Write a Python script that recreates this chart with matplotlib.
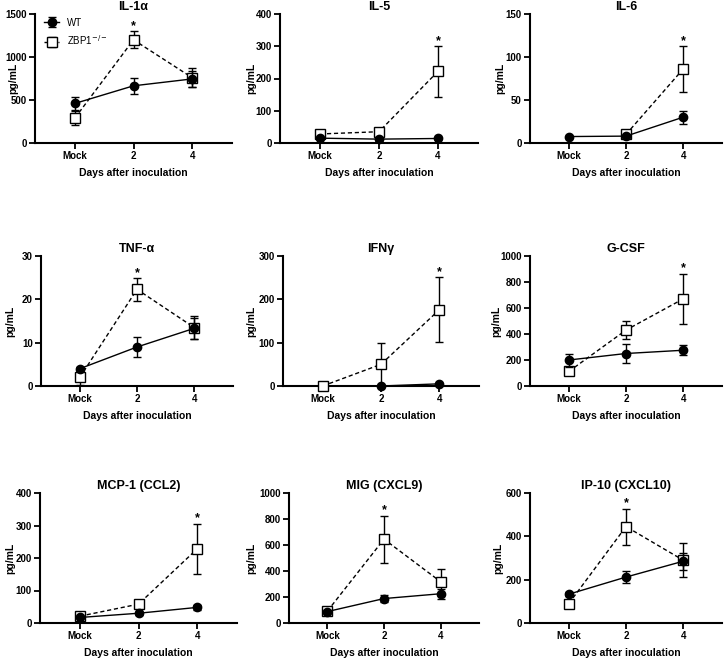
import numpy as np
import matplotlib
matplotlib.use("Agg")
import matplotlib.pyplot as plt

plt.rcParams['font.family'] = ['Liberation Sans', 'DejaVu Sans']

nan = np.nan
categories = ['Mock', '2', '4']
titles = ['IL-1α', 'IL-5', 'IL-6', 'TNF-α', 'IFNγ', 'G-CSF',
          'MCP-1 (CCL2)', 'MIG (CXCL9)', 'IP-10 (CXCL10)']

wt_mean = [[460, 665, 745], [15, 12, 14], [7.5, 8, 30],
           [4, 9, 13.3], [nan, 0, 5], [200, 250, 275],
           [17, 30, 48], [88, 188, 225], [133, 212, 285]]
wt_err = [[80, 90, 90], [3, 3, 3], [1, 1, 7.5],
          [0.5, 2.2, 2.5], [nan, 0, 2], [50, 72, 38],
          [3, 5, 8], [10, 25, 38], [10, 27, 40]]
zbp_mean = [[290, 1200, 760], [28, 35, 222], [nan, 10, 86],
            [2, 22.3, 13.5], [0, 50, 176], [112, 430, 670],
            [21, 58, 228], [92, 645, 318], [90, 445, 290]]
zbp_err = [[85, 100, 110], [5, 5, 78], [nan, 3, 26.5],
           [1.8, 2.6, 2.7], [0, 49, 75], [20, 70, 192],
           [4, 6, 77], [10, 180, 100], [10, 83, 78]]
star_idx = [1, 2, 2, 1, 2, 2, 2, 1, 1]
ymax = [1500, 400, 150, 30, 300, 1000, 400, 1000, 600]
ystep = [500, 100, 50, 10, 100, 200, 100, 200, 200]

W, H = 724, 659
fig = plt.figure(figsize=(W / 100, H / 100), dpi=100)

rows = [(14, 143), (256, 386), (493, 623)]
lefts = [[35, 280, 530], [41, 283, 530], [40, 289, 530]]
rights = [[232, 478, 722], [233, 479, 722], [237, 479, 722]]
ylab_off = [[17, 24, 25], [26, 27, 29], [25, 33, 27]]

x = np.arange(len(categories))
for i in range(9):
    r, c = divmod(i, 3)
    top, bot = rows[r]
    l, rr = lefts[r][c], rights[r][c]
    ax = fig.add_axes([l / W, 1 - bot / H, (rr - l) / W, (bot - top) / H])
    wm = np.array(wt_mean[i], float); we = np.array(wt_err[i], float)
    zm = np.array(zbp_mean[i], float); ze = np.array(zbp_err[i], float)
    ebz = ax.errorbar(x, zm, yerr=ze, color='black', ls=(0, (3, 2)), lw=1.0,
                      marker='s', ms=6.5, mfc='white', mec='black', mew=1.0,
                      capsize=3.2, capthick=1.0, elinewidth=1.0, zorder=3,
                      label='ZBP1$^{-/-}$')
    ebw = ax.errorbar(x, wm, yerr=we, color='black', ls='-', lw=1.0,
                      marker='o', ms=6, mfc='black', mec='black',
                      capsize=3.2, capthick=1.0, elinewidth=1.0, zorder=4,
                      label='WT')
    for eb in (ebz, ebw):
        for art in eb.get_children():
            art.set_clip_on(False)
    s = star_idx[i]
    ax.annotate('*', xy=(x[s], zm[s] + ze[s]), xytext=(0, -0.5),
                textcoords='offset points', ha='center', va='bottom',
                fontsize=9, fontweight='bold')
    ax.set_xlim(-0.68, 2.68)
    ax.set_ylim(0, ymax[i])
    ax.set_yticks(np.arange(0, ymax[i] + 1, ystep[i]))
    ax.set_xticks(x)
    ax.set_xticklabels(categories)
    for sp in ['top', 'right']:
        ax.spines[sp].set_visible(False)
    for sp in ['left', 'bottom']:
        ax.spines[sp].set_linewidth(1.5)
    ax.tick_params(direction='out', length=4, width=1.3, labelsize=7, pad=2)
    for lab in ax.get_xticklabels() + ax.get_yticklabels():
        lab.set_fontweight('bold')
    ax.set_title(titles[i], fontsize=9, fontweight='bold', pad=3)
    ax.set_xlabel('Days after inoculation', fontsize=7.5, fontweight='bold', labelpad=5)
    ax.set_ylabel('pg/mL', fontsize=7.5, fontweight='bold')
    ax.yaxis.set_label_coords(-ylab_off[r][c] / (rr - l), 0.5)
    if i == 0:
        h, lb = ax.get_legend_handles_labels()
        ax.legend([h[1], h[0]], [lb[1], lb[0]], loc='upper left',
                  bbox_to_anchor=(0.0, 1.04), frameon=False, fontsize=7,
                  handlelength=1.6, labelspacing=0.6, handletextpad=0.8)

fig.savefig('out.png', dpi=100)
